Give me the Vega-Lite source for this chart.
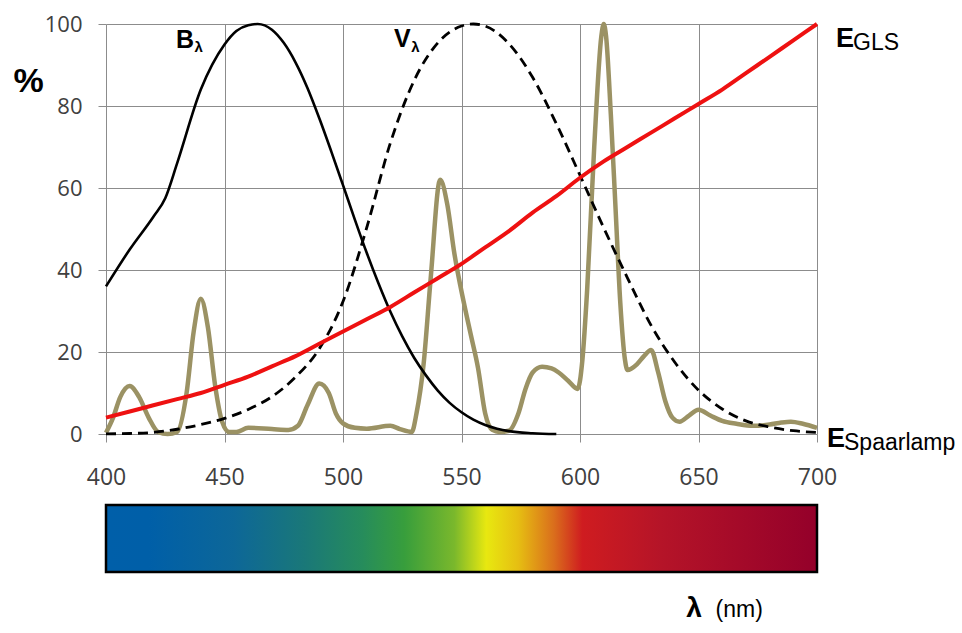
{
  "$schema": "https://vega.github.io/schema/vega-lite/v6.json",
  "background": "white",
  "padding": {"left": 12, "top": 13, "right": 5, "bottom": 5},
  "spacing": 14,
  "config": {"view": {"stroke": null}},
  "datasets": {
    "B": [
      {"wl": 400, "v": 36}, {"wl": 410, "v": 45}, {"wl": 420, "v": 53}, {"wl": 425, "v": 57.5},
      {"wl": 430, "v": 66}, {"wl": 440, "v": 84}, {"wl": 450, "v": 95}, {"wl": 455, "v": 98.3},
      {"wl": 460, "v": 99.7}, {"wl": 464, "v": 100}, {"wl": 470, "v": 98.6}, {"wl": 475, "v": 95.4},
      {"wl": 480, "v": 90.6}, {"wl": 485, "v": 84.4}, {"wl": 490, "v": 77}, {"wl": 495, "v": 69},
      {"wl": 500, "v": 60.7}, {"wl": 505, "v": 52.3}, {"wl": 510, "v": 44.2}, {"wl": 515, "v": 36.7},
      {"wl": 520, "v": 29.8}, {"wl": 525, "v": 23.8}, {"wl": 530, "v": 18.6}, {"wl": 535, "v": 14.3},
      {"wl": 540, "v": 10.6}, {"wl": 545, "v": 7.6}, {"wl": 550, "v": 5.3}, {"wl": 555, "v": 3.5},
      {"wl": 560, "v": 2.2}, {"wl": 565, "v": 1.3}, {"wl": 570, "v": 0.7}, {"wl": 580, "v": 0.2},
      {"wl": 590, "v": 0}
    ],
    "V": [
      {"wl": 400, "v": 0.04}, {"wl": 410, "v": 0.12}, {"wl": 420, "v": 0.4}, {"wl": 430, "v": 1.16},
      {"wl": 440, "v": 2.3}, {"wl": 450, "v": 3.8}, {"wl": 460, "v": 6}, {"wl": 470, "v": 9.1},
      {"wl": 480, "v": 13.9}, {"wl": 490, "v": 20.8}, {"wl": 500, "v": 32.3}, {"wl": 510, "v": 50.3},
      {"wl": 520, "v": 71}, {"wl": 530, "v": 86.2}, {"wl": 540, "v": 95.4}, {"wl": 550, "v": 99.5},
      {"wl": 555, "v": 100}, {"wl": 560, "v": 99.5}, {"wl": 570, "v": 95.2}, {"wl": 580, "v": 87},
      {"wl": 590, "v": 75.7}, {"wl": 600, "v": 63.1}, {"wl": 610, "v": 50.3}, {"wl": 620, "v": 38.1},
      {"wl": 630, "v": 26.5}, {"wl": 640, "v": 17.5}, {"wl": 650, "v": 10.7}, {"wl": 660, "v": 6.1},
      {"wl": 670, "v": 3.2}, {"wl": 680, "v": 1.7}, {"wl": 690, "v": 0.8}, {"wl": 700, "v": 0.4}
    ],
    "E": [
      {"wl": 400, "v": 4}, {"wl": 410, "v": 5.5}, {"wl": 420, "v": 7}, {"wl": 430, "v": 8.5},
      {"wl": 440, "v": 10}, {"wl": 450, "v": 12}, {"wl": 460, "v": 14}, {"wl": 470, "v": 16.5},
      {"wl": 480, "v": 19}, {"wl": 490, "v": 22}, {"wl": 500, "v": 25}, {"wl": 510, "v": 28},
      {"wl": 520, "v": 31}, {"wl": 530, "v": 34.5}, {"wl": 540, "v": 38}, {"wl": 550, "v": 41.5},
      {"wl": 560, "v": 45.5}, {"wl": 570, "v": 49.5}, {"wl": 580, "v": 54}, {"wl": 590, "v": 58},
      {"wl": 600, "v": 62.5}, {"wl": 610, "v": 66.5}, {"wl": 620, "v": 70}, {"wl": 630, "v": 73.5},
      {"wl": 640, "v": 77}, {"wl": 650, "v": 80.5}, {"wl": 660, "v": 84}, {"wl": 670, "v": 88},
      {"wl": 680, "v": 92}, {"wl": 690, "v": 96}, {"wl": 700, "v": 100}
    ],
    "S": [
      {"wl": 400, "v": 0.3}, {"wl": 403, "v": 4}, {"wl": 406, "v": 9}, {"wl": 410, "v": 11.7},
      {"wl": 414, "v": 9}, {"wl": 418, "v": 4}, {"wl": 422, "v": 0.5}, {"wl": 426, "v": 0},
      {"wl": 430, "v": 0.5}, {"wl": 434, "v": 10}, {"wl": 437, "v": 25}, {"wl": 440, "v": 33},
      {"wl": 443, "v": 26}, {"wl": 446, "v": 12}, {"wl": 449, "v": 3}, {"wl": 452, "v": 0.5},
      {"wl": 455, "v": 0.5}, {"wl": 460, "v": 1.5}, {"wl": 470, "v": 1.2}, {"wl": 477, "v": 1},
      {"wl": 481, "v": 2}, {"wl": 485, "v": 7}, {"wl": 490, "v": 12.3}, {"wl": 494, "v": 10},
      {"wl": 497, "v": 5}, {"wl": 500, "v": 2.6}, {"wl": 505, "v": 1.5}, {"wl": 510, "v": 1.3},
      {"wl": 520, "v": 2}, {"wl": 524, "v": 1.2}, {"wl": 529, "v": 0.5}, {"wl": 531, "v": 5},
      {"wl": 534, "v": 17}, {"wl": 537, "v": 38}, {"wl": 541, "v": 62}, {"wl": 544, "v": 56},
      {"wl": 547, "v": 44}, {"wl": 551, "v": 32}, {"wl": 554, "v": 24}, {"wl": 557, "v": 16},
      {"wl": 560, "v": 5}, {"wl": 563, "v": 1}, {"wl": 566, "v": 0.5}, {"wl": 570, "v": 0.8},
      {"wl": 574, "v": 5}, {"wl": 577, "v": 11}, {"wl": 580, "v": 15}, {"wl": 584, "v": 16.4},
      {"wl": 588, "v": 16}, {"wl": 591, "v": 15}, {"wl": 595, "v": 13}, {"wl": 599, "v": 11},
      {"wl": 601, "v": 18}, {"wl": 603, "v": 35}, {"wl": 606, "v": 70}, {"wl": 609, "v": 97},
      {"wl": 610, "v": 100}, {"wl": 611, "v": 97}, {"wl": 613, "v": 78}, {"wl": 615, "v": 55},
      {"wl": 617, "v": 32}, {"wl": 619, "v": 18}, {"wl": 620, "v": 15.6}, {"wl": 624, "v": 17},
      {"wl": 627, "v": 19}, {"wl": 630, "v": 20.5}, {"wl": 633, "v": 15}, {"wl": 636, "v": 8},
      {"wl": 639, "v": 4}, {"wl": 642, "v": 3}, {"wl": 646, "v": 4.5}, {"wl": 650, "v": 5.9},
      {"wl": 655, "v": 4.5}, {"wl": 660, "v": 3.2}, {"wl": 666, "v": 2.5}, {"wl": 673, "v": 2},
      {"wl": 680, "v": 2.3}, {"wl": 685, "v": 2.8}, {"wl": 689, "v": 3}, {"wl": 694, "v": 2.5},
      {"wl": 700, "v": 1.5}
    ],
    "labels": [
      {"wl": 429.5, "v": 94.1, "t": "B", "kind": "main"},
      {"wl": 437.3, "v": 93.2, "t": "λ", "kind": "sub"},
      {"wl": 521.5, "v": 94.4, "t": "V", "kind": "main"},
      {"wl": 528.8, "v": 93.2, "t": "λ", "kind": "sub"},
      {"wl": 708, "v": 94.4, "t": "E", "kind": "big"},
      {"wl": 715.2, "v": 93.7, "t": "GLS", "kind": "norm"},
      {"wl": 704.2, "v": -3.2, "t": "E", "kind": "big"},
      {"wl": 711.4, "v": -3.9, "t": "Spaarlamp", "kind": "norm"}
    ],
    "bar": [{"from": 400, "to": 700}],
    "axislabel": [
      {"wl": 644.8, "p": -0.67, "t": "λ", "kind": "lam"},
      {"wl": 657.2, "p": -0.67, "t": "(nm)", "kind": "nm"}
    ]
  },
  "vconcat": [
    {
      "width": 711,
      "height": 410,
      "encoding": {
        "x": {
          "field": "wl", "type": "quantitative",
          "scale": {"domain": [400, 700], "nice": false},
          "axis": {
            "values": [400, 450, 500, 550, 600, 650, 700],
            "title": null, "grid": true, "gridColor": "#8c8c8c", "gridWidth": 1,
            "domain": false, "tickColor": "#8c8c8c", "tickSize": 8,
            "labelFont": "Open Sans", "labelFontSize": 23, "labelColor": "#404040",
            "labelPadding": 24, "labelFlush": false
          }
        },
        "y": {
          "field": "v", "type": "quantitative",
          "scale": {"domain": [0, 100], "nice": false},
          "axis": {
            "values": [0, 20, 40, 60, 80, 100],
            "title": "%", "titleAngle": 0, "titleFont": "Liberation Sans", "titleFontSize": 34,
            "titleFontWeight": "bold", "titleColor": "black", "titleX": -78, "titleY": 57,
            "titleAlign": "center", "titleBaseline": "middle",
            "grid": true, "gridColor": "#8c8c8c", "gridWidth": 1,
            "domain": false, "tickColor": "#8c8c8c", "tickSize": 8,
            "labelFont": "Open Sans", "labelFontSize": 22, "labelColor": "#404040",
            "labelPadding": 16, "labelFlush": false
          }
        }
      },
      "layer": [
        {"data": {"name": "S"}, "mark": {"type": "line", "color": "#9b9264", "strokeWidth": 4.5, "interpolate": "monotone"}},
        {"data": {"name": "B"}, "mark": {"type": "line", "color": "black", "strokeWidth": 2.6, "interpolate": "monotone"}},
        {"data": {"name": "V"}, "mark": {"type": "line", "color": "black", "strokeWidth": 2.8, "strokeDash": [10, 6], "interpolate": "monotone"}},
        {"data": {"name": "E"}, "mark": {"type": "line", "color": "#ee1111", "strokeWidth": 4, "interpolate": "monotone"}},
        {
          "data": {"name": "labels"},
          "transform": [{"filter": "datum.kind == 'main'"}],
          "mark": {"type": "text", "align": "left", "baseline": "alphabetic", "font": "Liberation Sans", "fontWeight": "bold", "fontSize": 25, "color": "black"},
          "encoding": {"text": {"field": "t"}}
        },
        {
          "data": {"name": "labels"},
          "transform": [{"filter": "datum.kind == 'sub'"}],
          "mark": {"type": "text", "align": "left", "baseline": "alphabetic", "font": "Liberation Sans", "fontWeight": "bold", "fontSize": 15, "color": "black"},
          "encoding": {"text": {"field": "t"}}
        },
        {
          "data": {"name": "labels"},
          "transform": [{"filter": "datum.kind == 'big'"}],
          "mark": {"type": "text", "align": "left", "baseline": "alphabetic", "font": "Liberation Sans", "fontWeight": "bold", "fontSize": 27, "color": "black"},
          "encoding": {"text": {"field": "t"}}
        },
        {
          "data": {"name": "labels"},
          "transform": [{"filter": "datum.kind == 'norm'"}],
          "mark": {"type": "text", "align": "left", "baseline": "alphabetic", "font": "Liberation Sans", "fontWeight": "normal", "fontSize": 23, "color": "black"},
          "encoding": {"text": {"field": "t"}}
        }
      ]
    },
    {
      "width": 711,
      "height": 67,
      "encoding": {
        "x": {"type": "quantitative", "scale": {"domain": [400, 700], "nice": false}, "axis": null},
        "y": {"type": "quantitative", "scale": {"domain": [0, 1], "nice": false}, "axis": null}
      },
      "layer": [
        {
          "data": {"name": "bar"},
          "mark": {
            "type": "rect",
            "stroke": "black", "strokeWidth": 2.5,
            "fill": {
              "gradient": "linear", "x1": 0, "y1": 0, "x2": 1, "y2": 0,
              "stops": [
                {"offset": 0, "color": "#005fa9"},
                {"offset": 0.06, "color": "#005fa8"},
                {"offset": 0.18, "color": "#0d6798"},
                {"offset": 0.28, "color": "#1a7878"},
                {"offset": 0.36, "color": "#268c5c"},
                {"offset": 0.42, "color": "#389e3c"},
                {"offset": 0.49, "color": "#7ab82c"},
                {"offset": 0.535, "color": "#e8e810"},
                {"offset": 0.58, "color": "#e6be12"},
                {"offset": 0.63, "color": "#da6e1c"},
                {"offset": 0.67, "color": "#cf1c20"},
                {"offset": 0.78, "color": "#b51428"},
                {"offset": 1, "color": "#94002a"}
              ]
            }
          },
          "encoding": {
            "x": {"field": "from", "type": "quantitative"},
            "x2": {"field": "to"},
            "y": {"datum": 0, "type": "quantitative"},
            "y2": {"datum": 1}
          }
        },
        {
          "data": {"name": "axislabel"},
          "transform": [{"filter": "datum.kind == 'lam'"}],
          "mark": {"type": "text", "align": "left", "baseline": "alphabetic", "font": "Liberation Sans", "fontWeight": "bold", "fontSize": 28, "color": "black"},
          "encoding": {
            "x": {"field": "wl", "type": "quantitative"},
            "y": {"field": "p", "type": "quantitative"},
            "text": {"field": "t"}
          }
        },
        {
          "data": {"name": "axislabel"},
          "transform": [{"filter": "datum.kind == 'nm'"}],
          "mark": {"type": "text", "align": "left", "baseline": "alphabetic", "font": "Liberation Sans Narrow, Liberation Sans", "fontWeight": "normal", "fontSize": 23, "color": "black"},
          "encoding": {
            "x": {"field": "wl", "type": "quantitative"},
            "y": {"field": "p", "type": "quantitative"},
            "text": {"field": "t"}
          }
        }
      ]
    }
  ]
}
